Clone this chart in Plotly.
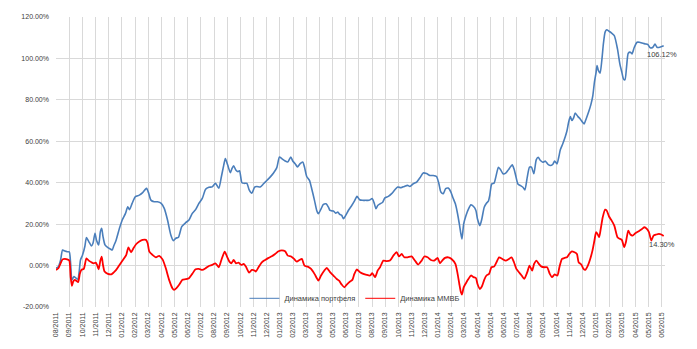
import pandas as pd
import plotly.graph_objects as go

# Month positions (months since 08/2011) and cumulative returns in percent
portfolio_month = [
    0.00, 0.18, 0.35, 0.50, 0.68, 0.85, 1.01, 1.11, 1.21, 1.36, 1.51, 1.66, 1.76, 1.86,
    2.01, 2.19, 2.31, 2.49, 2.69, 2.81, 2.96, 3.07, 3.24, 3.37, 3.47, 3.57, 3.72, 3.94,
    4.12, 4.27, 4.37, 4.57, 4.82, 5.03, 5.28, 5.45, 5.58, 5.78, 6.03, 6.33, 6.58, 6.78,
    6.88, 7.04, 7.21, 7.46, 7.71, 7.99, 8.22, 8.47, 8.72, 8.92, 9.10, 9.30, 9.55, 9.85,
    10.10, 10.35, 10.60, 10.85, 11.11, 11.36, 11.61, 11.86, 12.11, 12.36, 12.56, 12.74,
    12.86, 13.04, 13.24, 13.37, 13.49, 13.67, 13.82, 13.94, 14.12, 14.32, 14.50, 14.67,
    14.87, 15.08, 15.25, 15.51, 15.76, 16.01, 16.26, 16.52, 16.77, 16.97, 17.15, 17.40,
    17.60, 17.83, 17.98, 18.16, 18.34, 18.54, 18.74, 18.87, 19.04, 19.25, 19.42, 19.63,
    19.80, 19.93, 20.13, 20.31, 20.51, 20.69, 20.81, 21.07, 21.24, 21.40, 21.55, 21.70,
    21.83, 22.00, 22.20, 22.46, 22.66, 22.86, 23.06, 23.27, 23.52, 23.77, 24.02, 24.18,
    24.30, 24.43, 24.61, 24.81, 24.98, 25.24, 25.49, 25.74, 25.95, 26.20, 26.45, 26.70,
    26.88, 27.13, 27.39, 27.64, 27.89, 28.14, 28.40, 28.65, 28.90, 29.08, 29.23, 29.41,
    29.59, 29.79, 29.99, 30.13, 30.33, 30.50, 30.63, 30.75, 30.83, 30.96, 31.13, 31.33,
    31.51, 31.71, 31.89, 32.01, 32.19, 32.34, 32.52, 32.69, 32.84, 32.94, 33.09, 33.27,
    33.40, 33.60, 33.77, 33.95, 34.15, 34.35, 34.53, 34.65, 34.78, 34.91, 35.08, 35.28,
    35.46, 35.61, 35.79, 35.96, 36.11, 36.29, 36.47, 36.62, 36.79, 36.97, 37.17, 37.37,
    37.55, 37.72, 37.87, 38.05, 38.18, 38.30, 38.48, 38.68, 38.81, 38.93, 39.06, 39.18,
    39.31, 39.43, 39.64, 39.81, 39.99, 40.11, 40.26, 40.44, 40.62, 40.77, 40.89, 41.02,
    41.09, 41.19, 41.32, 41.45, 41.57, 41.70, 41.82, 42.00, 42.20, 42.40, 42.64, 42.82,
    42.97, 43.10, 43.21, 43.33, 43.46, 43.62, 43.74, 43.92, 44.13, 44.31, 44.51, 44.77,
    44.95, 45.13, 45.33, 45.49, 45.64, 45.85, 46.15,
]
portfolio_pct = [
    -1.3, -0.5, 2.7, 7.5, 7.0, 6.7, 6.6, 1.0, -7.0, -5.3, -6.0, -6.6, -3.0, 2.7,
    5.0, 9.2, 13.5, 11.6, 9.5, 10.8, 15.6, 12.4, 10.0, 16.4, 18.0, 14.0, 10.0, 8.7,
    8.0, 7.5, 9.2, 12.4, 18.0, 22.0, 25.2, 28.4, 27.0, 30.0, 33.3, 34.0, 35.2, 36.8,
    37.3, 34.9, 31.6, 30.8, 30.8, 30.0, 27.6, 22.0, 14.8, 12.0, 13.2, 13.7, 18.8, 20.7,
    22.0, 25.2, 27.0, 30.0, 32.4, 36.8, 37.8, 38.0, 39.7, 37.3, 42.9, 48.5,
    51.7, 48.5, 44.8, 46.9, 48.2, 46.0, 45.3, 45.8, 40.0, 39.7, 39.7, 36.5,
    34.9, 37.8, 38.2, 37.9, 39.5, 41.1, 42.7, 44.7, 47.3, 52.4, 51.6, 50.5,
    50.0, 52.4, 50.5, 49.2, 47.6, 49.2, 50.0, 47.6, 43.0, 41.1, 37.1, 31.5,
    26.6, 25.0, 27.4, 29.5, 29.8, 28.2, 26.6, 26.3, 25.3, 25.8, 24.7, 24.2,
    22.6, 24.2, 26.6, 29.0, 31.1, 33.4, 31.8, 31.5, 31.5, 31.5, 32.3, 29.8,
    27.4, 29.0, 29.8, 30.6, 32.7, 33.4, 34.7, 36.6, 37.9, 37.6, 38.2, 38.7,
    38.2, 39.5, 40.3, 42.4, 44.7, 44.4, 43.5, 43.5, 43.0, 39.5, 35.5, 34.7,
    37.1, 37.4, 35.5, 33.0, 29.8, 24.9, 20.1, 15.3, 12.9, 20.1, 24.1, 27.4,
    29.3, 28.5, 26.6, 22.5, 19.3, 22.5, 28.2, 30.1, 31.1, 33.8, 39.4, 39.8,
    42.7, 47.5, 46.2, 44.3, 44.6, 46.2, 47.8, 48.6, 46.7, 43.5, 39.4, 38.6,
    37.8, 36.5, 42.7, 47.5, 47.5, 44.3, 51.0, 52.3, 50.7, 49.9, 50.4, 48.8,
    48.3, 48.8, 50.4, 49.1, 52.3, 55.9, 58.7, 62.3, 65.2, 69.2, 71.9, 70.0,
    71.3, 73.6, 71.9, 70.8, 69.2, 68.4, 70.8, 74.0, 77.7, 82.1, 88.5, 93.4,
    96.6, 94.2, 92.9, 99.0, 107.0, 112.7, 113.8, 113.1, 112.2, 111.0, 104.6, 97.4,
    93.4, 90.1, 89.7, 95.8, 102.5, 103.0, 102.2, 105.4, 107.8, 107.8, 107.4, 107.0,
    106.7, 105.1, 105.4, 107.0, 105.4, 105.4, 106.12,
]

micex_month = [
    0.00, 0.18, 0.35, 0.50, 0.68, 0.85, 1.01, 1.11, 1.21, 1.31, 1.43, 1.56, 1.68, 1.81,
    1.93, 2.11, 2.31, 2.49, 2.69, 2.86, 3.02, 3.12, 3.24, 3.37, 3.47, 3.57, 3.69, 3.94,
    4.20, 4.37, 4.57, 4.82, 5.08, 5.33, 5.50, 5.70, 5.88, 6.08, 6.33, 6.58, 6.83, 6.96,
    7.09, 7.34, 7.59, 7.84, 8.09, 8.34, 8.59, 8.84, 8.97, 9.15, 9.35, 9.60, 9.85, 10.10,
    10.35, 10.60, 10.85, 11.11, 11.36, 11.61, 11.86, 12.11, 12.36, 12.56, 12.81, 12.99,
    13.17, 13.32, 13.49, 13.67, 13.87, 14.07, 14.25, 14.42, 14.67, 14.87, 15.08, 15.18,
    15.38, 15.63, 15.88, 16.14, 16.39, 16.64, 16.90, 17.15, 17.40, 17.60, 17.86, 18.08,
    18.29, 18.49, 18.67, 18.87, 19.12, 19.37, 19.63, 19.80, 19.93, 20.13, 20.38, 20.56,
    20.81, 21.07, 21.32, 21.50, 21.70, 21.90, 22.08, 22.33, 22.51, 22.66, 22.84, 23.09,
    23.34, 23.59, 23.85, 24.02, 24.23, 24.43, 24.61, 24.86, 25.11, 25.36, 25.62, 25.87,
    26.05, 26.25, 26.45, 26.70, 27.01, 27.26, 27.51, 27.77, 27.97, 28.22, 28.47, 28.73,
    28.98, 29.16, 29.33, 29.54, 29.79, 30.04, 30.33, 30.50, 30.63, 30.75, 30.83, 30.96,
    31.13, 31.33, 31.51, 31.71, 31.89, 32.01, 32.19, 32.34, 32.52, 32.69, 32.89, 33.07,
    33.27, 33.45, 33.65, 33.90, 34.15, 34.40, 34.60, 34.78, 34.96, 35.16, 35.36, 35.56,
    35.79, 35.96, 36.16, 36.31, 36.49, 36.67, 36.87, 37.12, 37.30, 37.50, 37.67, 37.87,
    38.08, 38.23, 38.43, 38.63, 38.81, 38.98, 39.18, 39.38, 39.56, 39.69, 39.89, 40.06,
    40.19, 40.39, 40.57, 40.74, 40.89, 41.02, 41.12, 41.25, 41.37, 41.52, 41.70, 41.82,
    42.00, 42.20, 42.40, 42.64, 42.82, 42.97, 43.15, 43.28, 43.46, 43.62, 43.79, 44.00,
    44.26, 44.51, 44.69, 44.87, 45.03, 45.21, 45.38, 45.59, 45.79, 45.97, 46.15,
]
micex_pct = [
    -2.1, -1.3, 1.1, 3.0, 3.2, 3.0, 2.4, -5.3, -9.8, -7.7, -6.9, -7.4, -8.0, -4.0,
    -2.1, -1.6, 3.5, 2.4, 1.6, 1.1, 1.4, 0.3, -1.8, 2.4, 4.3, 0.3, -2.9, -4.0,
    -4.2, -3.4, -2.1, 0.3, 2.7, 5.1, 8.8, 6.4, 8.4, 10.3, 11.6, 12.4, 12.4, 10.8,
    6.7, 5.1, 4.0, 4.7, 3.0, -1.3, -6.9, -10.9, -11.7, -10.9, -9.3, -6.9, -6.6, -6.1,
    -4.0, -1.8, -1.6, -2.1, -1.3, -0.2, 0.3, 1.1, -0.8, 2.7, 6.7, 4.3,
    1.9, 1.1, 2.7, 1.1, 1.4, 0.3, 0.8, -0.5, -3.4, -2.1, -2.4, -2.9,
    -0.8, 1.6, 2.7, 3.7, 4.5, 5.6, 6.9, 7.3, 6.9, 4.8, 4.4, 3.2,
    1.9, 2.7, 3.2, 0.0, -0.5, -1.6, -4.0, -6.0, -7.3, -4.8, -2.4, -1.1,
    -3.2, -4.8, -6.5, -7.3, -9.2, -10.5, -9.2, -7.7, -6.9, -4.0, -1.9, -3.2,
    -4.0, -4.5, -4.8, -3.7, -5.6, -2.4, -0.8, 2.4, 2.1, 2.4, 4.8, 6.5,
    4.4, 5.6, 4.0, 4.0, 4.4, 2.4, 0.5, 2.4, 4.4, 4.0, 2.7, 2.4,
    3.7, 1.1, 2.4, 3.7, 4.0, 3.2, 0.8, -4.0, -8.9, -12.9, -14.0, -10.5,
    -8.5, -6.4, -4.8, -5.6, -6.0, -8.9, -11.3, -10.1, -6.9, -4.8, -4.0, -0.8,
    -0.5, 1.6, 4.0, 3.2, 2.4, 3.2, 4.0, 1.6, -1.6, -3.2, -4.8, -6.4,
    -3.2, 0.0, -2.4, 0.8, 2.4, 0.8, -0.5, -0.8, -0.8, -4.0, -5.6, -4.3,
    -4.8, -0.8, 3.2, 3.7, 4.0, 5.6, 6.9, 6.4, 5.6, 1.6, 0.5, -1.6,
    -2.1, 0.0, 3.2, 7.2, 12.1, 16.1, 15.3, 13.7, 17.7, 23.3, 27.0, 26.6,
    23.7, 21.7, 19.3, 13.7, 12.9, 12.4, 8.9, 11.3, 16.9, 15.0, 14.5, 15.6,
    16.6, 17.7, 18.5, 17.7, 16.1, 12.1, 14.5, 15.0, 15.3, 15.0, 14.30,
]

month_labels = list(pd.date_range("2011-08-01", "2015-06-01", freq="MS").strftime("%m/%Y"))
series_names = ["Динамика портфеля", "Динамика ММВБ"]
y_ticks = [-20, 0, 20, 40, 60, 80, 100, 120]
y_tick_labels = [f"{v:.2f}%" for v in y_ticks]

BLUE = "#4a7ebb"
RED = "#ff0000"
FONT = "Liberation Sans"

fig = go.Figure()
fig.add_trace(go.Scatter(
    x=portfolio_month, y=portfolio_pct, mode="lines", name=series_names[0],
    line=dict(color=BLUE, width=1.6, shape="spline", smoothing=0.6),
    showlegend=False,
))
fig.add_trace(go.Scatter(
    x=micex_month, y=micex_pct, mode="lines", name=series_names[1],
    line=dict(color=RED, width=1.8, shape="spline", smoothing=0.6),
    showlegend=False,
))
# legend entries drawn with thin key lines
for name, color in zip(series_names, (BLUE, RED)):
    fig.add_trace(go.Scatter(
        x=[None], y=[None], mode="lines", name=name,
        line=dict(color=color, width=1),
    ))

# value labels at the last point of each series
for xs, ys in ((portfolio_month, portfolio_pct), (micex_month, micex_pct)):
    fig.add_annotation(
        x=xs[-1], y=ys[-1], text=f"{ys[-1]:.2f}%", showarrow=False,
        xanchor="center", yanchor="top", yshift=-2, xshift=-2,
        font=dict(family=FONT, size=7.5, color="#404040"),
    )

fig.update_layout(
    width=697, height=349,
    margin=dict(l=56, r=32, t=17, b=42),
    paper_bgcolor="white", plot_bgcolor="white",
    font=dict(family=FONT, size=7, color="#595959"),
    showlegend=True,
    legend=dict(
        orientation="h", x=0.49, y=0.03, xanchor="center", yanchor="middle",
        bgcolor="rgba(0,0,0,0)", font=dict(family=FONT, size=7.5, color="#404040"),
        itemwidth=30, tracegroupgap=0,
    ),
)
fig.update_xaxes(
    range=[0, 46.25], tickmode="array",
    tickvals=list(range(len(month_labels))), ticktext=month_labels,
    tickangle=-90, tickfont=dict(size=7, color="#404040"),
    ticklabelstandoff=3,
    showgrid=True, gridcolor="#d9d9d9", gridwidth=1,
    zeroline=False, showline=False, ticks="",
)
fig.update_yaxes(
    range=[-20, 120], tickmode="array", tickvals=y_ticks, ticktext=y_tick_labels,
    tickfont=dict(size=7, color="#404040"),
    ticklabelstandoff=6,
    showgrid=True, gridcolor="#d9d9d9", gridwidth=1,
    zeroline=False, showline=False, ticks="",
)

fig.write_html("out.html")
